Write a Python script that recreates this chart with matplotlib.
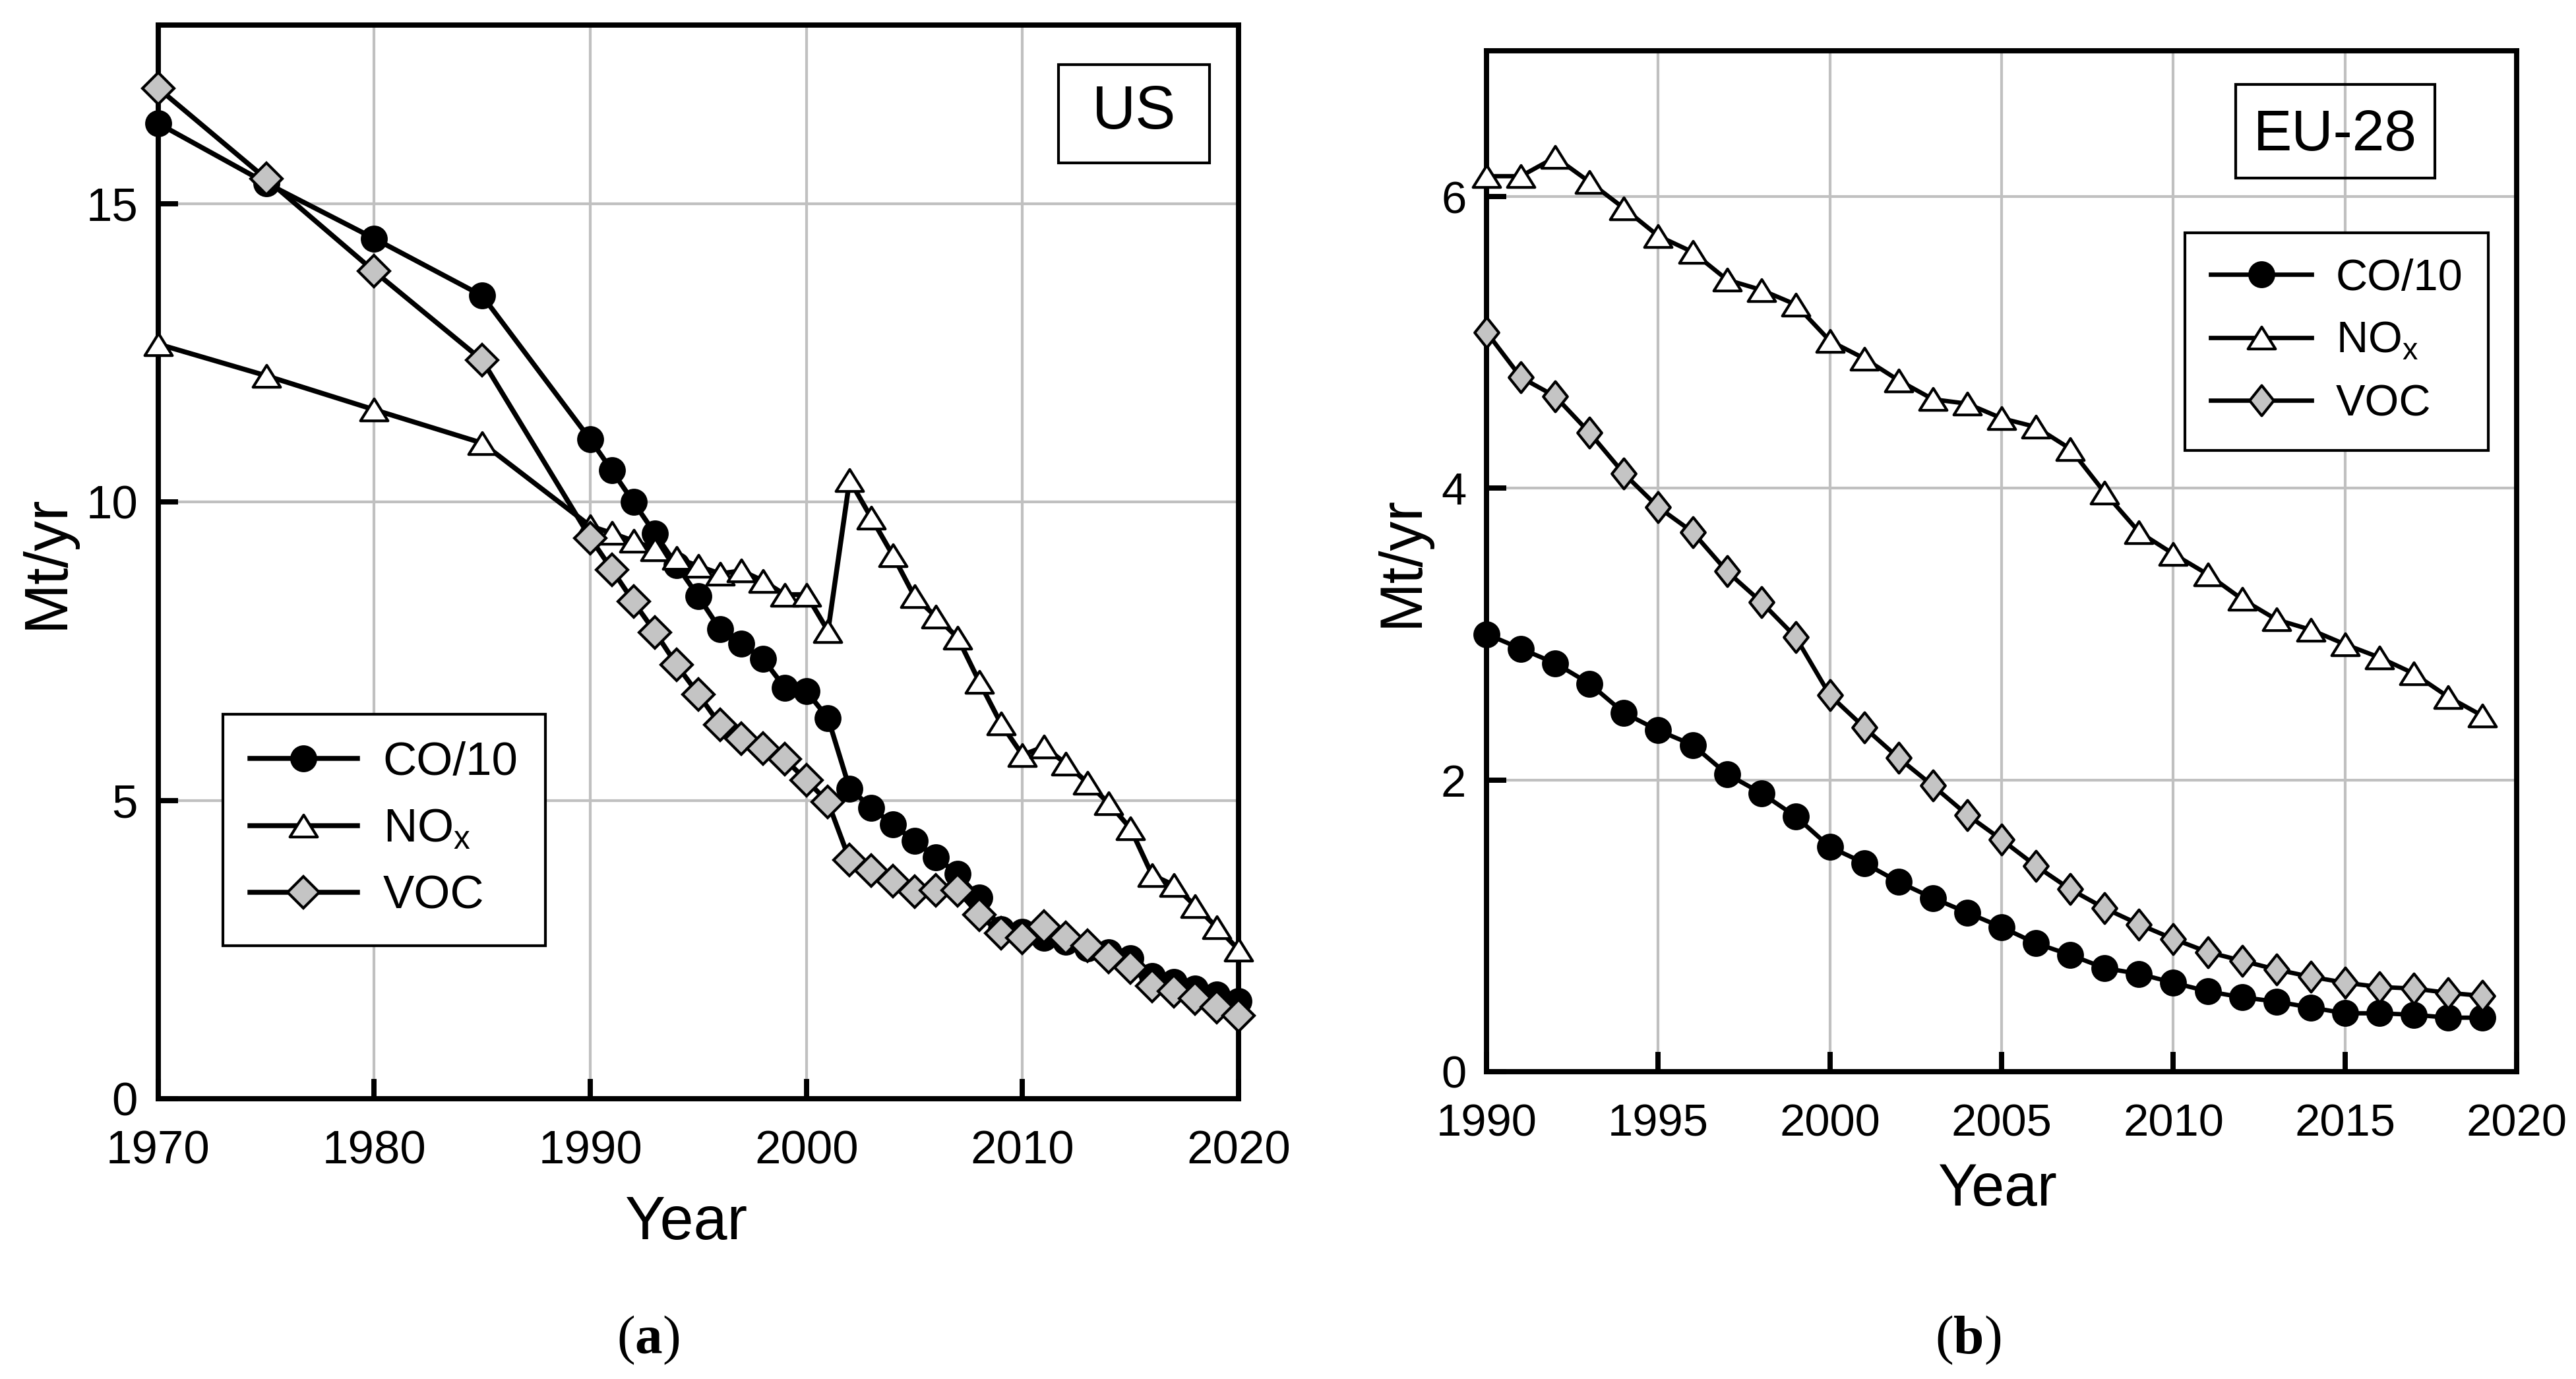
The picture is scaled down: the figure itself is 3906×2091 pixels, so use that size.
import numpy as np
import matplotlib
matplotlib.use("Agg")
import matplotlib.pyplot as plt
from matplotlib.patches import Rectangle
from matplotlib.path import Path

plt.rcParams['font.family'] = ['Liberation Sans', 'DejaVu Sans']
plt.rcParams['mathtext.fontset'] = 'custom'
plt.rcParams['mathtext.rm'] = 'Liberation Sans'
plt.rcParams['mathtext.bf'] = 'Liberation Serif:bold'

# ---- data (Mt/yr) ----
us_years = [1970, 1975, 1980, 1985] + list(range(1990, 2021))
us_co = [16.35, 15.35, 14.42, 13.46, 11.05, 10.53, 10.0, 9.47, 8.94, 8.42,
         7.87, 7.63, 7.37, 6.89, 6.83, 6.38, 5.20, 4.88, 4.60, 4.32,
         4.04, 3.77, 3.37, 2.84, 2.80, 2.70, 2.63, 2.52, 2.45, 2.35,
         2.06, 1.96, 1.85, 1.75, 1.64]
us_nox = [12.65, 12.12, 11.55, 10.99, 9.60, 9.48, 9.35, 9.21, 9.06, 8.93,
          8.80, 8.85, 8.68, 8.45, 8.45, 7.84, 10.37, 9.74, 9.11, 8.42,
          8.08, 7.73, 6.99, 6.29, 5.76, 5.90, 5.62, 5.30, 4.95, 4.53,
          3.75, 3.58, 3.23, 2.87, 2.50]
us_voc = [16.94, 15.42, 13.87, 12.38, 9.40, 8.87, 8.33, 7.82, 7.27, 6.78,
          6.27, 6.04, 5.87, 5.69, 5.34, 4.97, 4.00, 3.82, 3.65, 3.47,
          3.49, 3.49, 3.08, 2.77, 2.70, 2.89, 2.70, 2.56, 2.38, 2.20,
          1.89, 1.80, 1.68, 1.54, 1.39]

eu_years = list(range(1990, 2020))
eu_co = [3.00, 2.90, 2.80, 2.66, 2.46, 2.34, 2.24, 2.04, 1.91, 1.75,
         1.54, 1.43, 1.30, 1.19, 1.09, 0.99, 0.88, 0.80, 0.71, 0.67,
         0.61, 0.55, 0.51, 0.48, 0.44, 0.40, 0.40, 0.39, 0.37, 0.37]
eu_nox = [6.14, 6.14, 6.27, 6.10, 5.92, 5.73, 5.62, 5.43, 5.36, 5.26,
          5.01, 4.89, 4.74, 4.61, 4.58, 4.48, 4.42, 4.27, 3.97, 3.70,
          3.55, 3.41, 3.24, 3.10, 3.03, 2.93, 2.84, 2.73, 2.57, 2.44]
eu_voc = [5.07, 4.76, 4.63, 4.38, 4.10, 3.87, 3.70, 3.43, 3.22, 2.98,
          2.58, 2.36, 2.15, 1.96, 1.76, 1.59, 1.41, 1.25, 1.12, 1.01,
          0.91, 0.82, 0.76, 0.70, 0.65, 0.61, 0.58, 0.57, 0.54, 0.52]

labels = ['CO/10', r'NO$_\mathregular{x}$', 'VOC']

GRID = '#c0c0c0'
FILL = '#c4c4c4'


def closed_marker(pts):
    verts = pts + [pts[0]]
    codes = [Path.MOVETO] + [Path.LINETO] * (len(pts) - 1) + [Path.CLOSEPOLY]
    return Path(verts, codes)


tri = closed_marker([(-1, -0.8), (1, -0.8), (0, 0.8)])
thin_diamond = closed_marker([(0, 1), (0.8, 0), (0, -1), (-0.8, 0)])


def plot_panel(ax, years, co, nox, voc, lw, diamond, dsize, fs):
    ax.plot(years, co, '-', color='k', lw=lw, marker='o', ms=8.8,
            mfc='k', mec='k', mew=1.0, clip_on=False, zorder=3, label=labels[0])
    ax.plot(years, nox, '-', color='k', lw=lw, marker=tri, ms=10,
            mfc='white', mec='k', mew=1.0, clip_on=False, zorder=3, label=labels[1])
    ax.plot(years, voc, '-', color='k', lw=lw, marker=diamond, ms=dsize,
            mfc=FILL, mec='k', mew=1.0, clip_on=False, zorder=3, label=labels[2])
    ax.grid(True, color=GRID, lw=1.0)
    ax.set_axisbelow(True)
    for s in ax.spines.values():
        s.set_linewidth(1.9)
    ax.tick_params(direction='in', length=7.3, width=1.9, labelsize=fs,
                   top=False, right=False)
    ax.tick_params(axis='x', pad=11.5)
    ax.tick_params(axis='y', pad=7.4)


def add_legend(ax, x, y, fs):
    leg = ax.legend(loc='upper left', bbox_to_anchor=(x, y), fontsize=fs,
                    frameon=True, fancybox=False, shadow=False, framealpha=1,
                    edgecolor='k', borderaxespad=0, borderpad=0.58,
                    handlelength=2.3, handletextpad=0.55, labelspacing=0.5)
    leg.get_frame().set_linewidth(1.0)
    return leg


def add_tag(ax, text, x0, x1, y0, y1, ybase, fs):
    ax.add_patch(Rectangle((x0, y0), x1 - x0, y1 - y0, transform=ax.transAxes,
                           fill=False, ec='k', lw=1.0, zorder=4))
    ax.text((x0 + x1) / 2, ybase, text, transform=ax.transAxes, ha='center',
            va='baseline', fontsize=fs, zorder=5)


fig = plt.figure(figsize=(3906 / 300, 2091 / 300), dpi=300)

# (a) US
ax_a = fig.add_axes([0.0614, 0.2033, 0.4194, 0.7786])
plot_panel(ax_a, us_years, us_co, us_nox, us_voc, 1.8, 'D', 8.0, 17)
ax_a.set_xlim(1970, 2020)
ax_a.set_ylim(0, 18)
ax_a.set_xticks(np.arange(1970, 2021, 10))
ax_a.set_yticks([0, 5, 10, 15])
ax_a.set_xlabel('Year', fontsize=22, va='baseline')
ax_a.xaxis.set_label_coords(0.489, -0.1308)
ax_a.set_ylabel('Mt/yr', fontsize=22)
ax_a.yaxis.set_label_coords(-0.0763, 0.5)
add_legend(ax_a, 0.0598, 0.358, 17)
add_tag(ax_a, 'US', 0.8333, 0.9731, 0.8716, 0.9631, 0.9036, 22)

# (b) EU-28
ax_b = fig.add_axes([0.5771, 0.2229, 0.3999, 0.7403])
plot_panel(ax_b, eu_years, eu_co, eu_nox, eu_voc, 1.6, thin_diamond, 11.0, 16.5)
ax_b.set_xlim(1990, 2020)
ax_b.set_ylim(0, 7)
ax_b.set_xticks(np.arange(1990, 2021, 5))
ax_b.set_yticks([0, 2, 4, 6])
ax_b.set_xlabel('Year', fontsize=21.5, va='baseline')
ax_b.xaxis.set_label_coords(0.4955, -0.1311)
ax_b.set_ylabel('Mt/yr', fontsize=21.5)
ax_b.yaxis.set_label_coords(-0.055, 0.5)
add_legend(ax_b, 0.678, 0.8217, 16)
add_tag(ax_b, 'EU-28', 0.7273, 0.9206, 0.8753, 0.967, 0.9025, 21)

# panel captions
fig.text(0.2517, 0.0187, r'($\mathbf{a}$)', family='Liberation Serif',
         fontsize=20, ha='center', va='baseline')
fig.text(0.764, 0.0187, r'($\mathbf{b}$)', family='Liberation Serif',
         fontsize=20, ha='center', va='baseline')

fig.savefig('out.png', dpi=300)
